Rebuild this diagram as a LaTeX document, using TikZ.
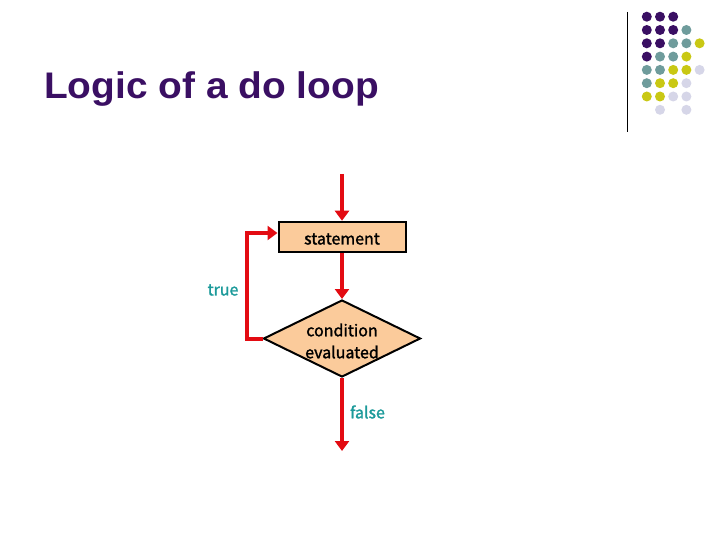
\documentclass[tikz,border=0pt]{standalone}
\usepackage{fontspec}
\usepackage{color}
\usepackage{tikz}
\usetikzlibrary{arrows.meta,shapes.geometric}
\newfontfamily\titlefont[FakeStretch=1.05]{Liberation Sans}
\newfontfamily\flowfont[FakeBold=1.5]{Noto Sans CJK JP}
\definecolor{titlepurple}{HTML}{3A0F63}
\definecolor{dotteal}{HTML}{6F9C9C}
\definecolor{dotyellow}{HTML}{C9C814}
\definecolor{dotlilac}{HTML}{D6D6E8}
\definecolor{flowred}{HTML}{E30B12}
\definecolor{flowfill}{HTML}{FBCB9B}
\definecolor{labelteal}{HTML}{1C9A9A}
\tikzset{
  flowbox/.style={draw=black,line width=2pt,fill=flowfill,inner sep=0pt},
  flowtext/.style={font=\flowfont\fontsize{16}{22}\selectfont,inner sep=0pt,align=center},
  flowlabel/.style={flowtext,text=labelteal},
  flowarrow/.style={draw=flowred,line width=4pt,-{Triangle[length=10pt,width=14pt]}},
}
\begin{document}
\begin{tikzpicture}[x=1pt,y=-1pt]
\useasboundingbox (0,0) rectangle (720,540);
\node[font=\titlefont\bfseries\fontsize{37}{40}\selectfont,text=titlepurple,anchor=base west,inner sep=0pt] (title) at (44,99) {Logic of a do loop};
% corner rule and dots
\coordinate (ruletop) at (627.5,12);
\coordinate (rulebot) at (627.5,132);
\draw[line width=1pt] (ruletop) -- (rulebot);
\foreach \x/\y in {1/1,2/1,3/1,1/2,2/2,3/2,1/3,2/3,1/4}
  \fill[titlepurple] (633.6+13.2*\x,3.4+13.3*\y) circle (5);
\foreach \x/\y in {4/2,3/3,4/3,2/4,3/4,1/5,2/5,1/6}
  \fill[dotteal] (633.6+13.2*\x,3.4+13.3*\y) circle (5);
\foreach \x/\y in {5/3,4/4,3/5,4/5,2/6,3/6,1/7,2/7}
  \fill[dotyellow] (633.6+13.2*\x,3.4+13.3*\y) circle (5);
\foreach \x/\y in {5/5,4/6,3/7,4/7,2/8,4/8}
  \fill[dotlilac] (633.6+13.2*\x,3.4+13.3*\y) circle (5);
% flow
\node[flowbox,minimum width=127pt,minimum height=30.5pt] (statement) at (342,237) {};
\node[flowbox,diamond,aspect=2,minimum width=157pt,minimum height=77pt] (condition) at (342,338.5) {};
\node[flowtext] (statementtext) at (342,239) {statement};
\node[flowtext] (conditiontext) at (342,341) {condition\\evaluated};
\coordinate (entry) at (342,174);
\coordinate (exit) at (342,451);
\coordinate (corner) at (247,233);
\draw[flowarrow] (entry) -- (statement.north);
\draw[flowarrow] (statement.south) -- (condition.north);
\draw[flowarrow] (condition.west) -| (corner) -- (corner -| statement.west);
\draw[flowarrow] (condition.south) -- (exit);
\node[flowlabel] (truelabel) at (223,290) {true};
\node[flowlabel] (falselabel) at (367.5,412) {false};
\end{tikzpicture}
\end{document}
